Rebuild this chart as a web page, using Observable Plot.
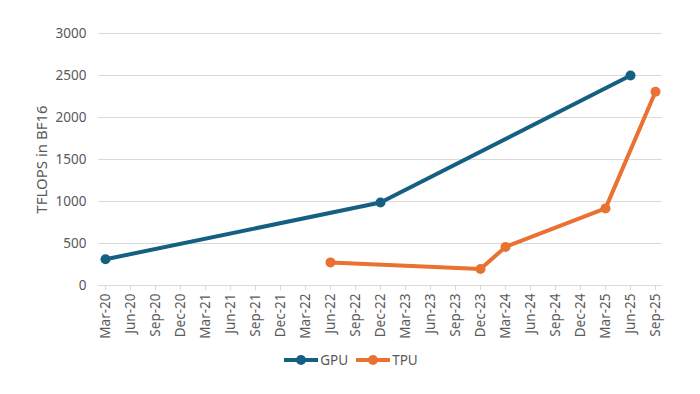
<!DOCTYPE html>
<html>
<head>
<meta charset="utf-8">
<script src="https://cdn.jsdelivr.net/npm/d3@7"></script>
<script src="https://cdn.jsdelivr.net/npm/@observablehq/plot@0.6"></script>
<style>
  html, body { margin: 0; padding: 0; background: #fff; }
  body { width: 700px; height: 394px; overflow: hidden; font-family: "Noto Sans", sans-serif; }
  #legend { display: flex; justify-content: center; align-items: center; gap: 8px; height: 40px; margin-left: 2px; font-size: 13.5px; color: #595959; }
  .item { display: flex; align-items: center; gap: 2px; }
</style>
</head>
<body>
<div id="chart"></div>
<div id="legend"></div>
<script>
const quarters = ["Mar-20","Jun-20","Sep-20","Dec-20","Mar-21","Jun-21","Sep-21","Dec-21","Mar-22","Jun-22","Sep-22","Dec-22","Mar-23","Jun-23","Sep-23","Dec-23","Mar-24","Jun-24","Sep-24","Dec-24","Mar-25","Jun-25","Sep-25"];
const yTicks = [0, 500, 1000, 1500, 2000, 2500, 3000];
const seriesNames = ["GPU", "TPU"];
const seriesColors = ["#156082", "#E97132"];
const gpuDates = ["Mar-20", "Dec-22", "Jun-25"];
const gpuValues = [312, 989, 2500];
const tpuDates = ["Jun-22", "Dec-23", "Mar-24", "Mar-25", "Sep-25"];
const tpuValues = [275, 197, 459, 918, 2307];

const data = [
  ...gpuDates.map((d, i) => ({series: "GPU", date: d, value: gpuValues[i]})),
  ...tpuDates.map((d, i) => ({series: "TPU", date: d, value: tpuValues[i]}))
];

const chart = Plot.plot({
  width: 700,
  height: 340,
  marginTop: 33,
  marginBottom: 55,
  marginLeft: 98,
  marginRight: 38,
  style: {fontFamily: "Noto Sans, sans-serif", fontSize: "13.5px", color: "#595959", background: "#fff"},
  x: {type: "point", domain: quarters, padding: 0.24},
  y: {domain: [0, 3000], ticks: yTicks},
  color: {domain: seriesNames, range: seriesColors},
  marks: [
    Plot.gridY(yTicks, {stroke: "#d9d9d9", strokeOpacity: 1}),
    Plot.axisY(yTicks, {tickSize: 0, tickPadding: 12, tickFormat: d3.format("d"), label: "TFLOPS in BF16", labelAnchor: "center", labelArrow: "none", labelOffset: 62, fontSize: 13.5, fill: "#595959"}),
    Plot.axisX({tickRotate: -90, tickSize: 5, tickPadding: 3, stroke: "#d9d9d9", fill: "#595959", label: null, fontSize: 13.5}),
    Plot.line(data, {x: "date", y: "value", z: "series", stroke: "series", strokeWidth: 4}),
    Plot.dot(data, {x: "date", y: "value", fill: "series", r: 5})
  ]
});
document.getElementById("chart").appendChild(chart);
chart.querySelectorAll("[aria-label='y-axis label'] text").forEach(t => t.setAttribute("font-size", "15"));

const legend = d3.select("#legend");
seriesNames.forEach((name, i) => {
  const item = legend.append("div").attr("class", "item");
  const svg = item.append("svg").attr("width", 34).attr("height", 12);
  svg.append("line").attr("x1", 0).attr("x2", 34).attr("y1", 6).attr("y2", 6).attr("stroke", seriesColors[i]).attr("stroke-width", 4);
  svg.append("circle").attr("cx", 17).attr("cy", 6).attr("r", 5).attr("fill", seriesColors[i]);
  item.append("span").text(name);
});
</script>
</body>
</html>
